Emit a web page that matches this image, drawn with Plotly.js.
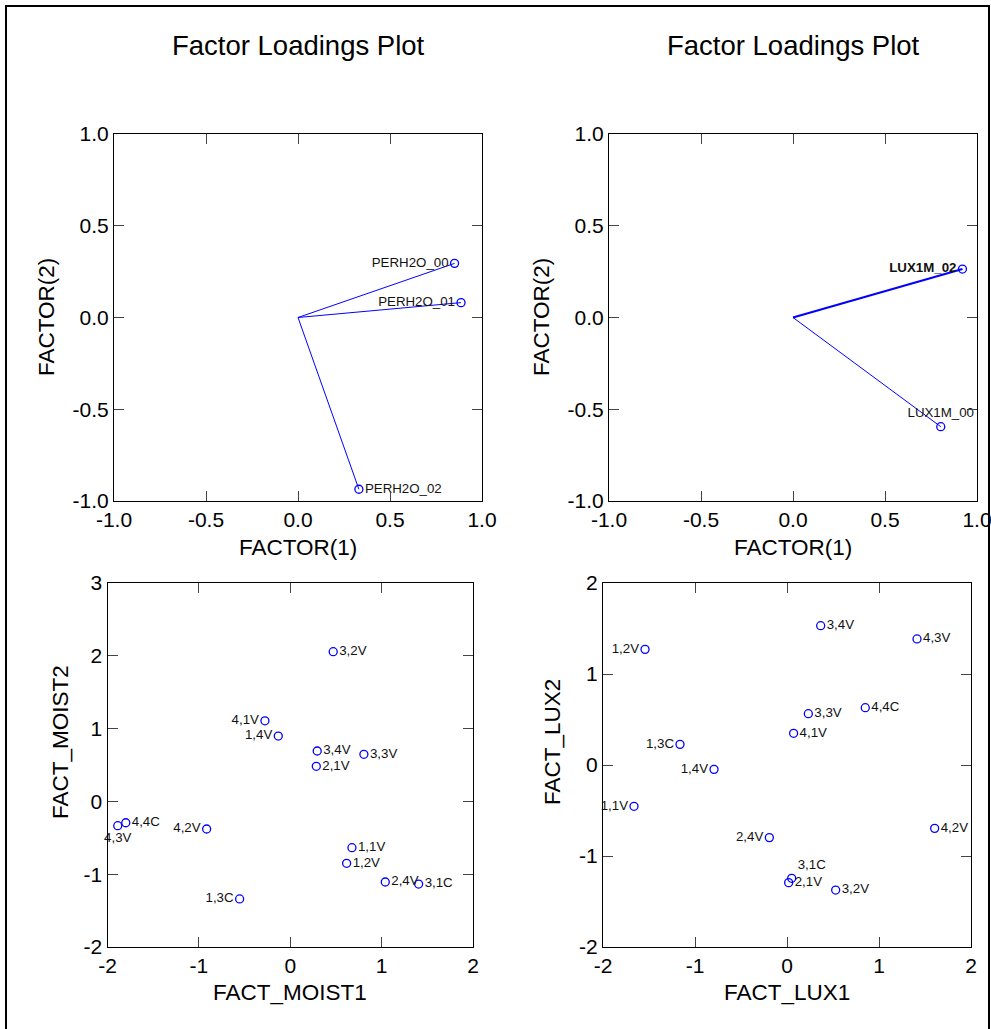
<!DOCTYPE html>
<html>
<head>
<meta charset="utf-8">
<script src="https://cdn.plot.ly/plotly-3.0.1.min.js"></script>
<style>
  html, body { margin: 0; padding: 0; background: #ffffff; }
  #chart { width: 991px; height: 1029px; }
</style>
</head>
<body>
<div id="chart"></div>
<script>
// ---- Factor loadings: soil moisture variables ----
const moistLoadNames = ["PERH2O_00", "PERH2O_01", "PERH2O_02"];
const moistLoadF1 = [0.851, 0.886, 0.331];
const moistLoadF2 = [0.295, 0.081, -0.936];

// ---- Factor loadings: light variables ----
const luxLoadNames = ["LUX1M_02", "LUX1M_00"];
const luxLoadF1 = [0.921, 0.803];
const luxLoadF2 = [0.264, -0.595];

// ---- Factor scores (moisture) ----
const moistCases = ["3,2V", "4,1V", "1,4V", "3,4V", "2,1V", "3,3V", "1,1V",
                    "1,2V", "2,4V", "3,1C", "4,4C", "4,3V", "4,2V", "1,3C"];
const factMoist1 = [0.47, -0.277, -0.131, 0.295, 0.285, 0.806, 0.675,
                    0.617, 1.04, 1.405, -1.80, -1.888, -0.915, -0.554];
const factMoist2 = [2.056, 1.107, 0.898, 0.692, 0.482, 0.647, -0.636,
                    -0.85, -1.107, -1.135, -0.293, -0.334, -0.379, -1.34];

// ---- Factor scores (light) ----
const luxCases = ["3,4V", "4,3V", "1,2V", "3,3V", "4,4C", "4,1V", "1,3C",
                  "1,4V", "1,1V", "4,2V", "2,4V", "3,1C", "2,1V", "3,2V"];
const factLux1 = [0.366, 1.413, -1.543, 0.232, 0.851, 0.072, -1.163,
                  -0.793, -1.663, 1.605, -0.192, 0.051, 0.018, 0.529];
const factLux2 = [1.531, 1.385, 1.271, 0.564, 0.63, 0.348, 0.227,
                  -0.048, -0.454, -0.696, -0.798, -1.245, -1.293, -1.374];

// ---- tick values ----
const loadTicks = [-1, -0.5, 0, 0.5, 1];
const scoreTicksX = [-2, -1, 0, 1, 2];
const moistTicksY = [-2, -1, 0, 1, 2, 3];
const luxTicksY = [-2, -1, 0, 1, 2];

// ---- label placement and styling ----
const moistLoadTextPos = ["middle left", "middle left", "middle right"];
const luxLoadTextPos = ["middle left", "top center"];
const luxLoadLineWidth = [2, 1];
const luxLoadWeight = ["bold", "normal"];
const moistCaseTextPos = ["middle right", "middle left", "middle left", "middle right",
  "middle right", "middle right", "middle right", "middle right", "middle right",
  "middle right", "middle right", "bottom center", "middle left", "middle left"];
const luxCaseTextPos = ["middle right", "middle right", "middle left", "middle right",
  "middle right", "middle right", "middle left", "middle left", "middle left",
  "middle right", "middle left", "top right", "middle right", "middle right"];

const W = 991, H = 1029;
const FONT = "Liberation Sans, Arial, sans-serif";
const BLUE = "#0000ff";
const px = v => v / W;
const py = v => 1 - v / H;

function axisStyle(range, ticks, digits) {
  return {
    range: range, autorange: false,
    tickmode: "array", tickvals: ticks, ticktext: ticks.map(v => v.toFixed(digits)),
    ticks: "inside", ticklen: 10, tickwidth: 1,
    tickcolor: "#444", showline: true, linecolor: "#000", linewidth: 1,
    mirror: "ticks", showgrid: false, zeroline: false, fixedrange: true,
    ticklabeloverflow: "allow",
    tickfont: { family: FONT, size: 21, color: "#000" }
  };
}

const traces = [];

// loading vectors drawn from the origin
moistLoadNames.forEach((n, i) => {
  traces.push({ x: [0, moistLoadF1[i]], y: [0, moistLoadF2[i]], mode: "lines",
    line: { color: BLUE, width: 1 }, xaxis: "x", yaxis: "y", hoverinfo: "skip" });
});
luxLoadNames.forEach((n, i) => {
  traces.push({ x: [0, luxLoadF1[i]], y: [0, luxLoadF2[i]], mode: "lines",
    line: { color: BLUE, width: luxLoadLineWidth[i] }, xaxis: "x2", yaxis: "y2", hoverinfo: "skip" });
});

const markerStyle = { symbol: "circle-open", size: 8, color: BLUE, line: { width: 1.3, color: BLUE } };
const labelFont = { family: FONT, size: 13.3, color: "#111" };

traces.push({ x: moistLoadF1, y: moistLoadF2, text: moistLoadNames, mode: "markers+text",
  textposition: moistLoadTextPos, textfont: labelFont, marker: markerStyle,
  cliponaxis: false, xaxis: "x", yaxis: "y" });
traces.push({ x: luxLoadF1, y: luxLoadF2, text: luxLoadNames, mode: "markers+text",
  textposition: luxLoadTextPos,
  textfont: { family: FONT, size: 13.3, color: "#111", weight: luxLoadWeight },
  marker: markerStyle, cliponaxis: false, xaxis: "x2", yaxis: "y2" });
traces.push({ x: factMoist1, y: factMoist2, text: moistCases, mode: "markers+text",
  textposition: moistCaseTextPos, textfont: labelFont, marker: markerStyle,
  cliponaxis: false, xaxis: "x3", yaxis: "y3" });
traces.push({ x: factLux1, y: factLux2, text: luxCases, mode: "markers+text",
  textposition: luxCaseTextPos, textfont: labelFont, marker: markerStyle,
  cliponaxis: false, xaxis: "x4", yaxis: "y4" });

function label(text, x, y, size, angle) {
  return { text: text, x: px(x), y: py(y), xref: "paper", yref: "paper",
    xanchor: "center", yanchor: "middle", showarrow: false, textangle: angle || 0,
    font: { family: FONT, size: size, color: "#000" } };
}

const layout = {
  width: W, height: H,
  margin: { l: 0, r: 0, t: 0, b: 0 },
  paper_bgcolor: "#fff", plot_bgcolor: "#fff",
  showlegend: false,
  xaxis: Object.assign(axisStyle([-1, 1], loadTicks, 1), { domain: [px(114), px(482)], anchor: "y" }),
  yaxis: Object.assign(axisStyle([-1, 1], loadTicks, 1), { domain: [py(501), py(134)], anchor: "x" }),
  xaxis2: Object.assign(axisStyle([-1, 1], loadTicks, 1), { domain: [px(609), px(977)], anchor: "y2" }),
  yaxis2: Object.assign(axisStyle([-1, 1], loadTicks, 1), { domain: [py(501), py(134)], anchor: "x2" }),
  xaxis3: Object.assign(axisStyle([-2, 2], scoreTicksX, 0), { domain: [px(107.5), px(473)], anchor: "y3" }),
  yaxis3: Object.assign(axisStyle([-2, 3], moistTicksY, 0), { domain: [py(947), py(583)], anchor: "x3" }),
  xaxis4: Object.assign(axisStyle([-2, 2], scoreTicksX, 0), { domain: [px(603), px(971)], anchor: "y4" }),
  yaxis4: Object.assign(axisStyle([-2, 2], luxTicksY, 0), { domain: [py(947), py(583)], anchor: "x4" }),
  annotations: [
    label("Factor Loadings Plot", 298, 45, 27.5),
    label("Factor Loadings Plot", 793, 45, 27.5),
    label("FACTOR(1)", 298, 547, 22.5),
    label("FACTOR(1)", 793, 547, 22.5),
    label("FACTOR(2)", 47, 317, 22.5, -90),
    label("FACTOR(2)", 542, 317, 22.5, -90),
    label("FACT_MOIST1", 290, 992, 22.5),
    label("FACT_LUX1", 787, 992, 22.5),
    label("FACT_MOIST2", 60, 742, 22.5, -90),
    label("FACT_LUX2", 552, 742, 22.5, -90)
  ],
  shapes: [
    { type: "rect", xref: "paper", yref: "paper", x0: px(6), x1: px(989), y0: -0.05, y1: py(6),
      line: { color: "#000", width: 2 }, fillcolor: "rgba(0,0,0,0)" }
  ]
};

Plotly.newPlot("chart", traces, layout, { staticPlot: true, displayModeBar: false });
</script>
</body>
</html>
